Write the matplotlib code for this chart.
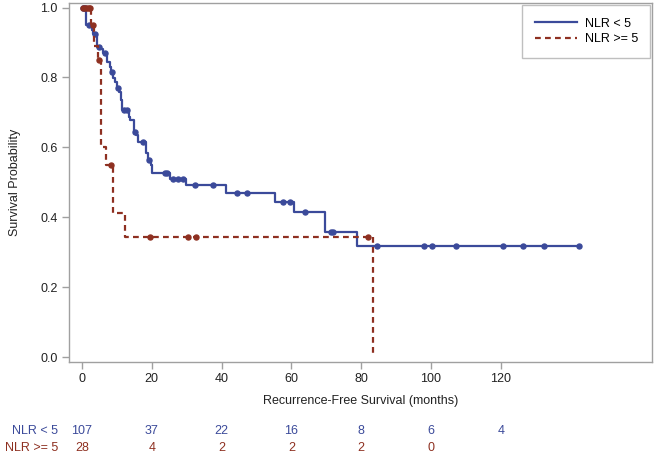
import numpy as np
import matplotlib
matplotlib.use("Agg")
import matplotlib.pyplot as plt
from matplotlib.lines import Line2D

plt.rcParams['font.family'] = ['Liberation Sans', 'DejaVu Sans']

# ── data ─────────────────────────────────────────────────────
blue_time = [0, 1.1, 1.3, 2.8, 3.2, 4.2, 5.6, 6.1, 7.1, 8.0, 8.2, 9.0, 9.5,
             10.1, 10.7, 11.1, 11.4, 13.5, 13.9, 14.9, 15.5, 16.1, 18.3,
             19.0, 19.7, 20.0, 25.2, 29.8, 41.3, 55.3, 60.8, 69.6, 78.7, 142.4]
blue_surv = [1.0, 0.971, 0.951, 0.937, 0.923, 0.888, 0.880, 0.871, 0.845,
             0.831, 0.817, 0.799, 0.788, 0.771, 0.759, 0.736, 0.708, 0.688,
             0.679, 0.645, 0.636, 0.616, 0.585, 0.564, 0.550, 0.527, 0.510,
             0.493, 0.470, 0.443, 0.415, 0.359, 0.318, 0.318]
blue_cens = [0.3, 0.6, 1.0, 2.0, 3.8, 5.0, 6.6, 8.6, 10.4, 12.0, 12.8, 15.2,
             17.5, 19.3, 23.8, 24.3, 26.2, 27.6, 29.0, 32.4, 37.6, 44.3, 47.2,
             57.7, 59.6, 63.9, 71.3, 71.8, 84.4, 98.1, 100.2, 107.2, 120.5,
             126.3, 132.5, 142.4]

red_time = [0, 2.7, 3.5, 4.5, 5.6, 7.0, 8.9, 12.3, 83.5]
red_surv = [1.0, 0.951, 0.890, 0.851, 0.602, 0.550, 0.413, 0.344, 0.0]
red_cens = [0.4, 0.9, 1.4, 1.9, 2.4, 3.2, 4.9, 8.2, 19.5, 30.4, 32.7, 82.0]

risk_times = [0, 20, 40, 60, 80, 100, 120]
risk_blue = ['107', '37', '22', '16', '8', '6', '4']
risk_red = ['28', '4', '2', '2', '2', '0']

BLUE = '#3B4A9A'
RED = '#8E3021'
GREY = '#A0A0A0'
DASH = (0, (2.6, 1.9))


def surv_at(times, surv, t):
    idx = np.searchsorted(times, t, side='right') - 1
    return np.array(surv)[idx]


fig = plt.figure(figsize=(6.56, 4.55), dpi=100)
ax = fig.add_axes([69 / 656, 1 - 362 / 455, 583 / 656, 359 / 455])

ax.step(blue_time, blue_surv, where='post', color=BLUE, lw=1.6)
ax.plot(blue_cens, surv_at(blue_time, blue_surv, blue_cens), 'o',
        color=BLUE, ms=3.6, ls='none')

ax.step(red_time, red_surv, where='post', color=RED, lw=1.6, linestyle=DASH)
ax.plot(red_cens, surv_at(red_time, red_surv, red_cens), 'o',
        color=RED, ms=3.6, ls='none')

ax.set_xlim(-3.7, 163.3)
ax.set_ylim(-0.014, 1.013)
ax.set_xticks(risk_times)
ax.set_yticks([0.0, 0.2, 0.4, 0.6, 0.8, 1.0])
ax.set_yticklabels([f'{v:.1f}' for v in [0.0, 0.2, 0.4, 0.6, 0.8, 1.0]])
ax.tick_params(direction='out', length=5, width=1, color=GREY,
               labelsize=9, labelcolor='#222222', pad=3)
for sp in ax.spines.values():
    sp.set_color(GREY)
    sp.set_linewidth(1)

ax.set_ylabel('Survival Probability', fontsize=9, color='#222222', labelpad=14)
ax.set_xlabel('Recurrence-Free Survival (months)', fontsize=9,
              color='#222222', labelpad=7)

handles = [Line2D([], [], color=BLUE, lw=1.6),
           Line2D([], [], color=RED, lw=1.6, linestyle=DASH)]
leg = ax.legend(handles, ['NLR < 5', 'NLR >= 5'], loc='upper right',
                bbox_to_anchor=(0.997, 0.994), fontsize=9, frameon=True,
                fancybox=False, edgecolor='#B0B0B0', handlelength=3.4,
                borderpad=1.0, labelspacing=0.3, borderaxespad=0,
                handletextpad=0.6)
leg.get_frame().set_linewidth(1)

# ── number at risk table ─────────────────────────────────────
def fig_x(month):
    # place text under the axis ticks using the axes' own scale
    disp = ax.transData.transform((month, 0))
    return fig.transFigure.inverted().transform(disp)[0]

y1 = 1 - 431 / 455
y2 = 1 - 448 / 455
fig.text(58 / 656, y1, 'NLR < 5', color=BLUE, fontsize=9, ha='right', va='center')
fig.text(58 / 656, y2, 'NLR >= 5', color=RED, fontsize=9, ha='right', va='center')
for t, n in zip(risk_times, risk_blue):
    fig.text(fig_x(t), y1, n, color=BLUE, fontsize=9, ha='center', va='center')
for t, n in zip(risk_times, risk_red):
    fig.text(fig_x(t), y2, n, color=RED, fontsize=9, ha='center', va='center')

fig.savefig('out.png', dpi=100)
